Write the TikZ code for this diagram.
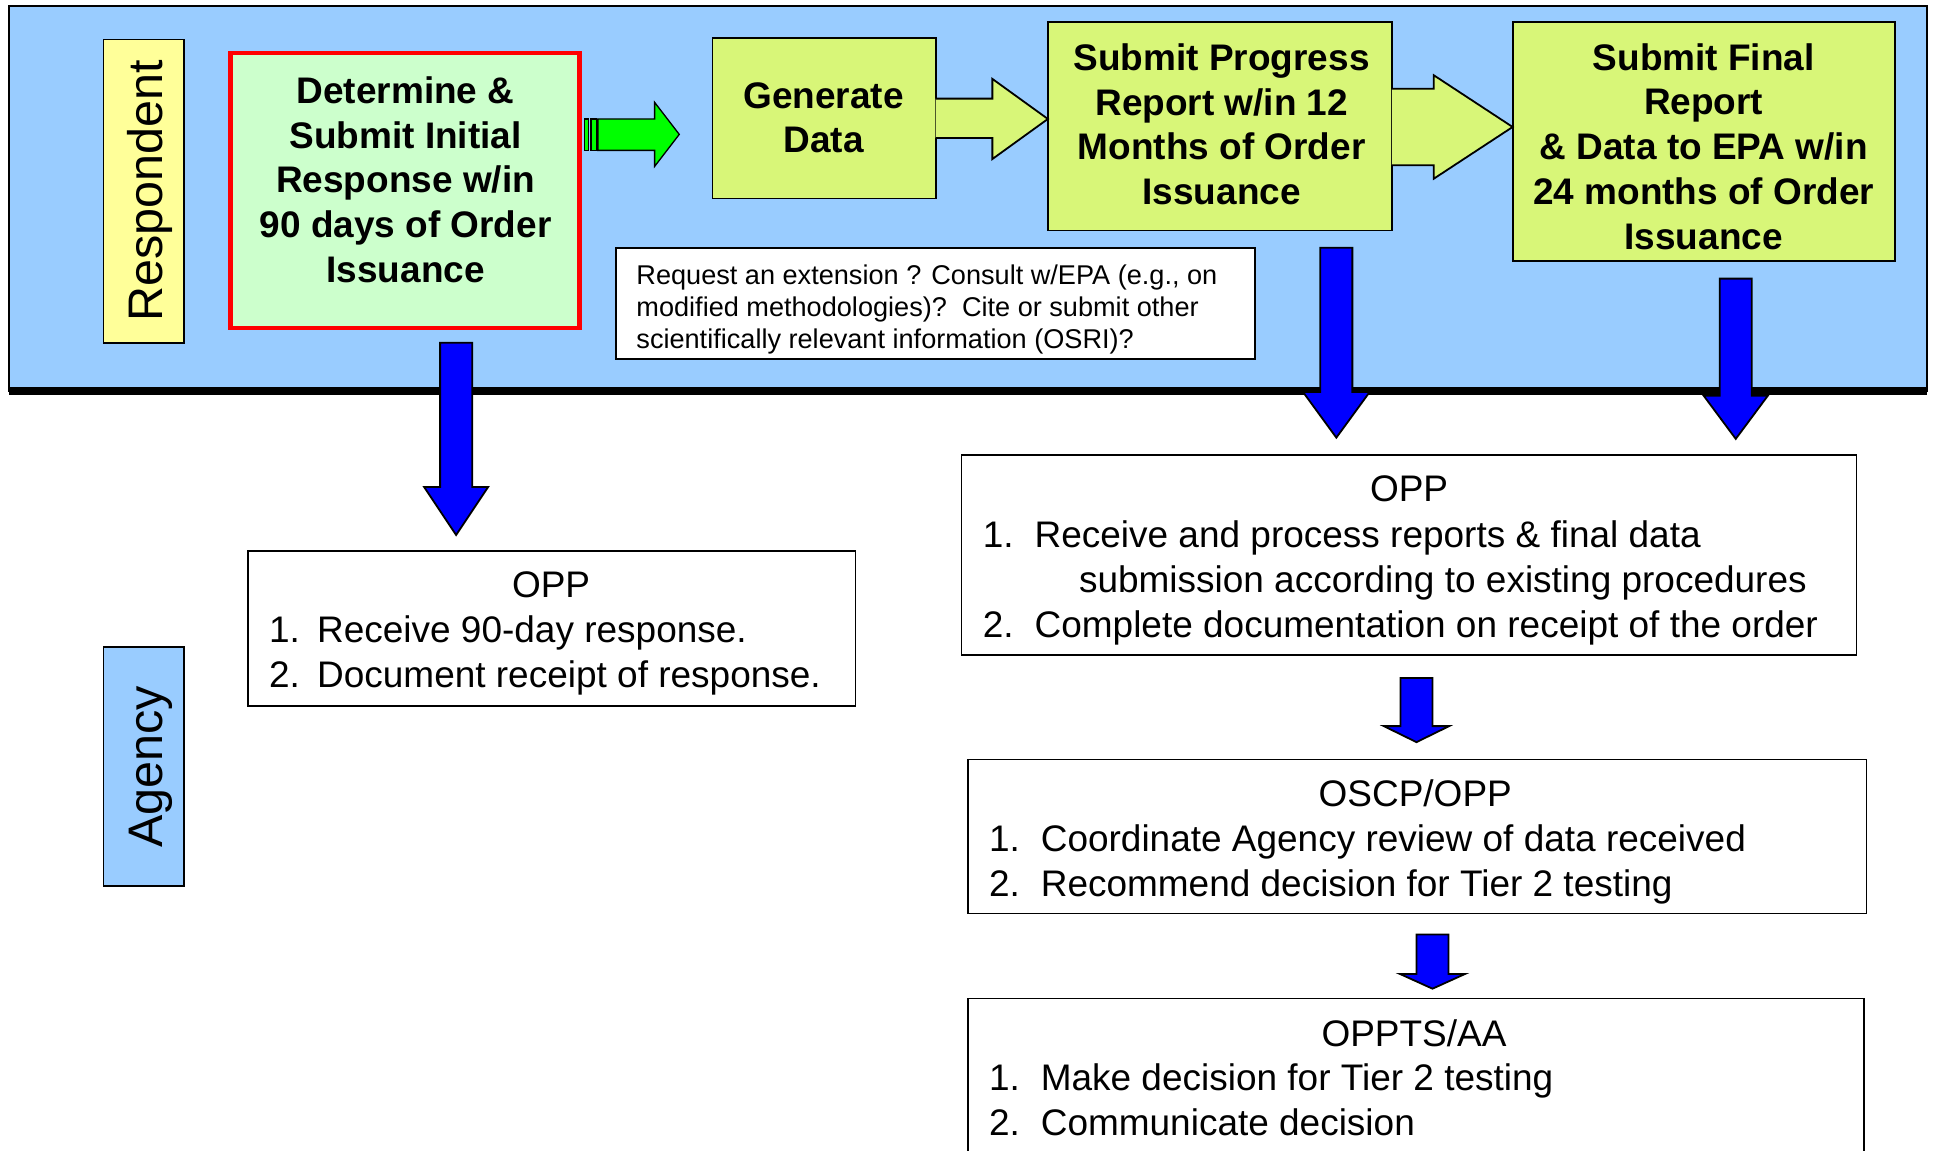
\documentclass[tikz,border=0pt]{standalone}
\usepackage{fontspec}
\setmainfont{Liberation Sans}
\usetikzlibrary{fit}
\definecolor{bandblue}{RGB}{153,204,255}
\definecolor{lblyellow}{RGB}{255,255,153}
\definecolor{palegreen}{RGB}{204,255,204}
\definecolor{ygreen}{RGB}{216,246,120}
\definecolor{brightgreen}{RGB}{0,255,0}
\definecolor{arrblue}{RGB}{0,0,255}
\newcommand\blkdown[6]{\draw[bluearr] ({#1-#2},#4) -- ({#1+#2},#4) -- ({#1+#2},#5) -- ({#1+#3},#5) -- (#1,#6) -- ({#1-#3},#5) -- ({#1-#2},#5) -- cycle;}
\begin{document}
\begin{tikzpicture}[x=0.75pt,y=-0.75pt,
  box/.style={draw=black, line width=1.1pt, inner sep=0pt, outer sep=0pt},
  boldtxt/.style={font=\bfseries\fontsize{22.5}{27.2}\selectfont, align=center, anchor=base, inner sep=0pt},
  hdtxt/.style={font=\fontsize{22.5}{27.4}\selectfont, anchor=base, inner sep=0pt},
  listtxt/.style={font=\fontsize{22.5}{27.4}\selectfont, align=left, anchor=base west, inner sep=0pt},
  labtxt/.style={font=\fontsize{29.5}{34}\selectfont, rotate=90, anchor=base, inner sep=0pt},
  bluearr/.style={draw=black, fill=arrblue, line width=1.1pt, line join=miter},
  ygarr/.style={draw=black, fill=ygreen, line width=1.1pt, line join=miter},
  grarr/.style={draw=black, fill=brightgreen, line width=0.8pt, line join=miter}]
\clip (0,0) rectangle (1568,933);
\fill[white] (0,0) rectangle (1568,933);
% band
\node[box, fill=bandblue, fit={(7,5) (1563,317)}] (band) {};
\draw[line width=4.5pt] (band.south west) -- (band.south east);
% lane labels
\node[box, fill=lblyellow, fit={(84,32) (149,278)}] (resp) {};
\node[labtxt] (respt) at (132,155) {Respondent};
\node[box, fill=bandblue, fit={(84,525) (149,719)}] (agen) {};
\node[labtxt] (agent) at (132,622) {Agency};
% respondent boxes
\node[box, draw=red, line width=2.8pt, fill=palegreen, fit={(187,43) (470,266)}] (det) {};
\node[boldtxt] (dett) at (329,229) {Determine \&\\Submit Initial\\Response w/in\\90 days of Order\\Issuance};
\node[box, fill=ygreen, fit={(578,31) (759,161)}] (gen) {};
\node[boldtxt] (gent) at (668,124) {Generate\\Data};
\node[box, fill=ygreen, fit={(850,18) (1129,187)}] (prog) {};
\node[boldtxt] (progt) at (991,166) {Submit Progress\\Report w/in 12\\Months of Order\\Issuance};
\node[box, fill=ygreen, fit={(1227,18) (1537,212)}] (fin) {};
\node[boldtxt] (fint) at (1382,202) {Submit Final\\Report\\\& Data to EPA w/in\\24 months of Order\\Issuance};
\node[box, fill=white, fit={(500,201) (1018,291)}] (req) {};
\node[font=\fontsize{16.5}{19.5}\selectfont, align=left, anchor=base west, inner sep=0pt] (reqt) at (516,283) {Request an extension ? Consult w/EPA (e.g., on\\modified methodologies)?\ \ Cite or submit other\\scientifically relevant information (OSRI)?};
% agency boxes
\node[box, fill=white, fit={(201,447) (694,573)}] (oppl) {};
\node[hdtxt] (opplh) at (447,485) {OPP};
\node[listtxt] (oppll) at (218,558) {\makebox[29.25pt][l]{1.}Receive 90-day response.\\\makebox[29.25pt][l]{2.}Document receipt of response.};
\node[box, fill=white, fit={(780,369) (1506,531)}] (oppr) {};
\node[hdtxt] (opprh) at (1143,407) {OPP};
\node[listtxt] (opprl) at (797,517) {\makebox[31.5pt][l]{1.}Receive and process reports \& final data\\\hspace*{58.5pt}submission according to existing procedures\\\makebox[31.5pt][l]{2.}Complete documentation on receipt of the order};
\node[box, fill=white, fit={(785,616) (1514,741)}] (oscp) {};
\node[hdtxt] (oscph) at (1148,654) {OSCP/OPP};
\node[listtxt] (oscpl) at (802,727) {\makebox[31.5pt][l]{1.}Coordinate Agency review of data received\\\makebox[31.5pt][l]{2.}Recommend decision for Tier 2 testing};
\node[box, fill=white, fit={(785,810) (1512,950)}] (oppts) {};
\node[hdtxt] (opptsh) at (1147,849) {OPPTS/AA};
\node[listtxt] (opptsl) at (802,921) {\makebox[31.5pt][l]{1.}Make decision for Tier 2 testing\\\makebox[31.5pt][l]{2.}Communicate decision};
% block arrows between respondent boxes
\draw[grarr] (474,96.5) rectangle (477.5,122);
\draw[grarr] (479.5,96.5) rectangle (484,122);
\draw[grarr] (485,96.5) -- (531,96.5) -- (531,83) -- (551,109) -- (531,135) -- (531,122) -- (485,122) -- cycle;
\draw[ygarr] (gen.east |- 0,80) -- (805,80) -- (805,64) -- (prog.west |- 0,96.5) -- (805,129) -- (805,112) -- (gen.east |- 0,112);
\draw[ygarr] (prog.east |- 0,72) -- (1163,72) -- (1163,61) -- (fin.west |- 0,103) -- (1163,145) -- (1163,134) -- (prog.east |- 0,134);
% blue arrows
\blkdown{370}{13}{26}{278}{395}{434}
\blkdown{1084}{13}{27}{201}{318}{355}
\blkdown{1408}{13}{26}{226}{321}{356}
\blkdown{1149}{13}{26.5}{550}{589}{602}
\blkdown{1162}{13}{26.5}{758}{790}{802}
\end{tikzpicture}
\end{document}
